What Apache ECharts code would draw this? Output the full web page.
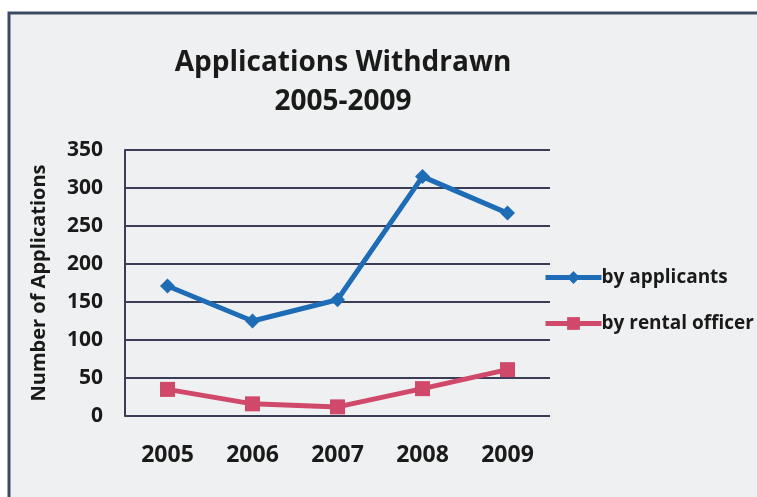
<!DOCTYPE html>
<html>
<head>
<meta charset="utf-8">
<script src="https://cdn.jsdelivr.net/npm/echarts@6/dist/echarts.min.js"></script>
<style>
  html, body { margin: 0; padding: 0; background: #ffffff; }
  #chart { width: 757px; height: 497px; }
</style>
</head>
<body>
<div id="chart"></div>
<script>
// Withdrawn applications per year, by who withdrew them
const years = ['2005', '2006', '2007', '2008', '2009'];
const byApplicants = [171, 125, 153, 315, 267];
const byRentalOfficer = [35, 16, 12, 36, 61];
const yTicks = { min: 0, max: 350, interval: 50 };

const chart = echarts.init(document.getElementById('chart'));
const font = '"Open Sans", "Noto Sans", sans-serif';

chart.setOption({
  backgroundColor: '#ffffff',
  graphic: [{
    type: 'rect',
    shape: { x: 9, y: 13, width: 760, height: 500 },
    style: { fill: '#eff0f1', stroke: '#3d4a66', lineWidth: 3 },
    z: -10
  }],
  title: {
    text: 'Applications Withdrawn\n2005-2009',
    left: 338,
    top: 39,
    textAlign: 'center',
    textStyle: {
      fontFamily: font,
      fontWeight: 'bold',
      fontSize: 28,
      lineHeight: 39,
      color: '#1a1a1a'
    }
  },
  legend: {
    orient: 'vertical',
    left: 538,
    top: 263,
    itemWidth: 56,
    itemHeight: 16,
    itemGap: 27,
    lineStyle: { width: 5 },
    textStyle: {
      fontFamily: font,
      fontWeight: 'bold',
      fontSize: 19,
      color: '#1a1a1a',
      padding: [0, 0, 0, -5]
    },
    data: ['by applicants', 'by rental officer']
  },
  grid: { left: 125, right: 207, top: 150, bottom: 81 },
  xAxis: {
    type: 'category',
    data: years,
    boundaryGap: true,
    axisLine: { show: false },
    axisTick: { show: false },
    axisLabel: {
      margin: 28,
      fontFamily: font,
      fontWeight: 'bold',
      fontSize: 23,
      color: '#1a1a1a'
    }
  },
  yAxis: {
    type: 'value',
    min: yTicks.min,
    max: yTicks.max,
    interval: yTicks.interval,
    name: 'Number of Applications',
    nameLocation: 'middle',
    nameGap: 76,
    nameTextStyle: {
      fontFamily: font,
      fontWeight: 'bold',
      fontSize: 20,
      color: '#1a1a1a'
    },
    axisLine: { show: true, lineStyle: { color: '#3a3d55', width: 2 } },
    axisTick: { show: false },
    axisLabel: {
      margin: 22,
      fontFamily: font,
      fontWeight: 'bold',
      fontSize: 21,
      color: '#1a1a1a'
    },
    splitLine: { lineStyle: { color: '#3a3d55', width: 2 } }
  },
  series: [
    {
      name: 'by applicants',
      type: 'line',
      data: byApplicants,
      symbol: 'diamond',
      symbolSize: 15,
      lineStyle: { color: '#1f6cb6', width: 5 },
      itemStyle: { color: '#1f6cb6' }
    },
    {
      name: 'by rental officer',
      type: 'line',
      data: byRentalOfficer,
      symbol: 'rect',
      symbolSize: 15,
      lineStyle: { color: '#d1496a', width: 5 },
      itemStyle: { color: '#d1496a' }
    }
  ]
});
</script>
</body>
</html>
